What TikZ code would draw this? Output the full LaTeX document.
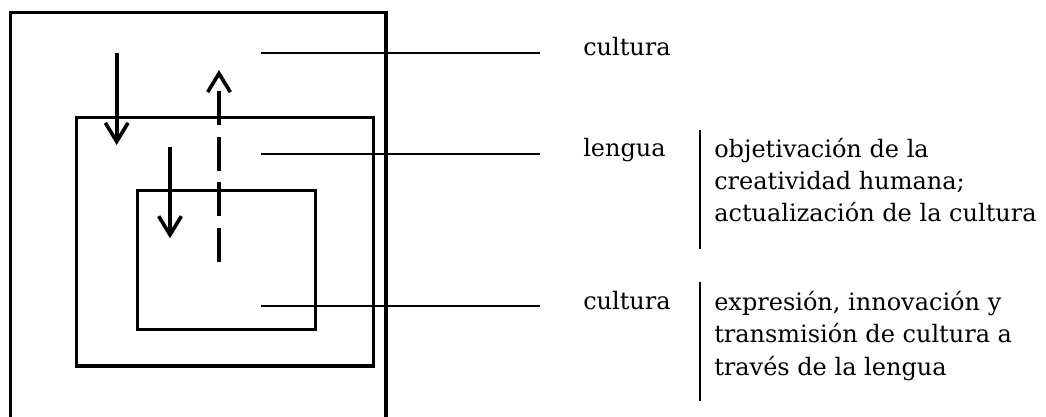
\documentclass[tikz,border=0pt]{standalone}
\usepackage{fontspec}
\setmainfont{DejaVu Serif}
\usetikzlibrary{
        arrows.meta,
        positioning
    }
\tikzset{>={Straight Barb[length=14pt,width=17pt]},auto}
\tikzset{box/.style={line width=2.3pt}}
\tikzset{flow/.style={->,line width=2.7pt}}
\tikzset{back flow/.style={flow,dash pattern=on 25.5pt off 8.6pt on 25.5pt off 8.6pt on 25.5pt off 8.6pt on 25.5pt off 60pt}}
\tikzset{lead/.style={line width=1.3pt,shorten >=32pt}}
\tikzset{sep/.style={line width=1.6pt}}
\tikzset{label text/.style={font=\fontsize{18}{24.3}\selectfont,inner sep=0pt}}
\tikzset{gloss/.style={label text,align=left}}

\begin{document}
\begin{tikzpicture}[x=0.75pt,y=-0.75pt]
                \useasboundingbox (0,0) rectangle (1046,417);
                \clip (0,0) rectangle (1046,417);
                % nested boxes, the outer one runs off the bottom
                \draw[box] (10.5,430) -- (10.5,12.5) -- (386,12.5) -- (386,430);
                \draw[box] (76.7,117.7) rectangle (373.3,366);
                \draw[box] (137.7,190.7) rectangle (315.3,329.3);
                % arrows
                \coordinate (downA) at (116.7,53.3);
                \coordinate (downAend) at (116.7,145);
                \coordinate (downB) at (170,146.7);
                \coordinate (downBend) at (170,238.3);
                \coordinate (up) at (219,261.7);
                \coordinate (upend) at (219,70);
                \draw[flow] (downA) -- (downAend);
                \draw[flow] (downB) -- (downBend);
                \draw[back flow] (up) -- (upend);
                % labels
                \node[label text, anchor=base west] (culturaA) at (583,56) {cultura};
                \node[label text, anchor=base west] (lengua) at (583,157) {lengua};
                \node[label text, anchor=base west] (culturaB) at (583,309) {cultura};
                % base of a multi-line node sits on its last line
                \node[gloss, anchor=base west] (objetivacion) at (714,222)
                    {objetivación de la\\creatividad humana;\\actualización de la cultura};
                \node[gloss, anchor=base west] (expresion) at (714,375)
                    {expresión, innovación y\\transmisión de cultura a\\través de la lengua};
                % leaders from the boxes
                \coordinate (inA) at (260.7,53.3);
                \coordinate (inB) at (260.7,153.7);
                \coordinate (inC) at (260.7,306);
                \path[lead]
                    (inA) edge (inA -| culturaA.west)
                    (inB) edge (inB -| lengua.west)
                    (inC) edge (inC -| culturaB.west)
                    ;
                \draw[sep] (700,130) -- (700,249);
                \draw[sep] (700,281.7) -- (700,400.7);
            \end{tikzpicture}
\end{document}
